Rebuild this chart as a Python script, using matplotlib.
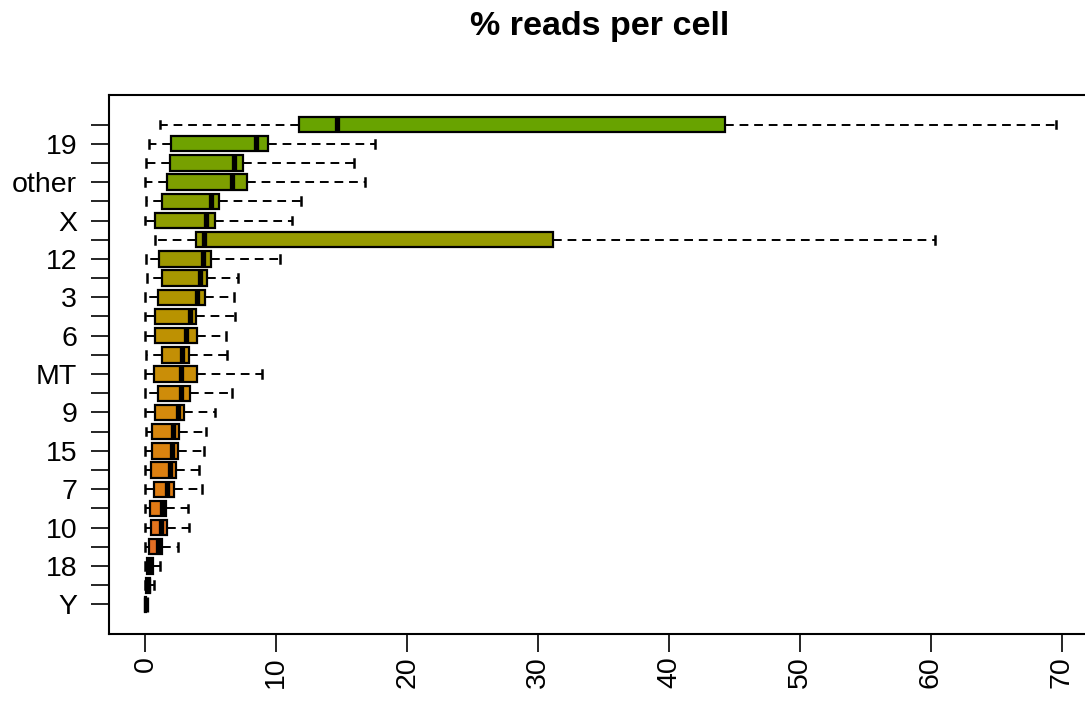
import matplotlib
matplotlib.use("Agg")
import matplotlib.pyplot as plt
from matplotlib.colors import LinearSegmentedColormap
import numpy as np

plt.rcParams['font.family'] = ['Liberation Sans', 'DejaVu Sans']

# groups listed top to bottom (sorted by median, highest first)
groups = ["1", "19", "17", "other", "11", "X", "2", "12", "16", "3", "5", "6", "14",
          "MT", "20", "9", "22", "15", "4", "7", "8", "10", "13", "18", "21", "Y"]
# R draws only every other label where they would overlap
shown = [False, True] * 13

whislo = [1.12, 0.28, 0.05, 0.00, 0.05, 0.00, 0.73, 0.02, 0.10, 0.00, 0.00, 0.00, 0.05,
          0.00, 0.00, 0.00, 0.02, 0.00, 0.00, 0.00, 0.00, 0.00, 0.00, 0.00, 0.00, 0.00]
q1 = [11.7, 1.96, 1.88, 1.68, 1.25, 0.76, 3.84, 1.04, 1.25, 0.94, 0.71, 0.71, 1.27,
      0.69, 0.96, 0.76, 0.53, 0.50, 0.40, 0.66, 0.35, 0.46, 0.28, 0.15, 0.02, 0.00]
med = [14.6, 8.43, 6.80, 6.62, 5.04, 4.66, 4.50, 4.38, 4.17, 3.94, 3.38, 3.10, 2.83,
       2.70, 2.72, 2.49, 2.11, 2.03, 1.91, 1.68, 1.25, 1.17, 0.96, 0.35, 0.20, 0.02]
q3 = [44.3, 9.37, 7.49, 7.74, 5.60, 5.29, 31.1, 5.01, 4.70, 4.55, 3.90, 3.94, 3.36,
      3.97, 3.41, 2.95, 2.60, 2.52, 2.37, 2.16, 1.60, 1.68, 1.25, 0.58, 0.38, 0.04]
whishi = [69.6, 17.5, 15.9, 16.75, 11.9, 11.2, 60.3, 10.3, 7.05, 6.75, 6.82, 6.19, 6.26,
          8.88, 6.65, 5.29, 4.66, 4.50, 4.09, 4.32, 3.25, 3.33, 2.47, 1.12, 0.69, 0.08]

xticks = [0, 10, 20, 30, 40, 50, 60, 70]

n = len(groups)
positions = np.arange(n, 0, -1)  # first group on top

stats = []
for i in range(n):
    stats.append(dict(label=groups[i], whislo=whislo[i], q1=q1[i], med=med[i],
                      q3=q3[i], whishi=whishi[i], fliers=[]))

cmap = LinearSegmentedColormap.from_list(
    "gr", ["#68a300", "#8e9c00", "#b89300", "#d58a0c", "#e27a14", "#e8603c"])
colors = [cmap(i / (n - 1)) for i in range(n)]

fig = plt.figure(figsize=(10.85, 7.03), dpi=100)
ax = fig.add_axes([0.1005, 0.0982, 0.907, 0.7667])

bp = ax.bxp(stats, positions=positions, orientation='horizontal', widths=0.8,
            patch_artist=True, showfliers=False, capwidths=0.4,
            boxprops=dict(linewidth=1.6, edgecolor='black'),
            medianprops=dict(color='black', linewidth=3.8, solid_capstyle='butt'),
            whiskerprops=dict(color='black', linewidth=1.4, linestyle=(0, (4.5, 3.0))),
            capprops=dict(color='black', linewidth=1.8))
for patch, c in zip(bp['boxes'], colors):
    patch.set_facecolor(c)

ax.set_xlim(-2.78, 72.4)
ax.set_ylim(0.5 - 1.04, n + 0.5 + 1.04)

ax.set_yticks(positions)
ax.set_yticklabels([g if s else "" for g, s in zip(groups, shown)], fontsize=20.5)
ax.set_xticks(xticks)
ax.set_xticklabels([str(t) for t in xticks], rotation=90, fontsize=20.5)

ax.tick_params(axis='y', length=13, width=1.2, pad=10)
ax.tick_params(axis='x', length=13, width=1.2, pad=3)
for s in ax.spines.values():
    s.set_linewidth(1.5)

fig.text(0.553, 0.962, "% reads per cell", ha='center', va='center',
         fontsize=24.5, fontweight='bold')

fig.savefig("out.png", dpi=100)
